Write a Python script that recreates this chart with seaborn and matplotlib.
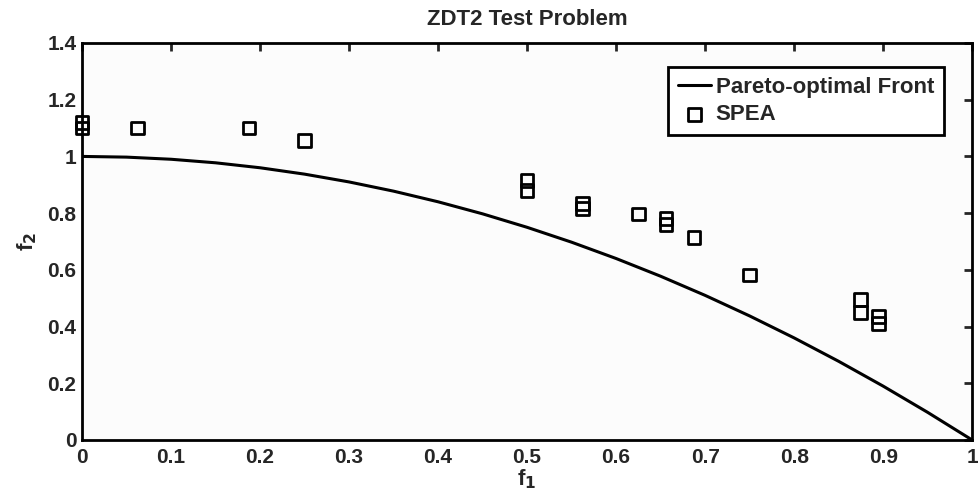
import matplotlib
matplotlib.use("Agg")
import matplotlib.pyplot as plt
import seaborn as sns
import pandas as pd

front_f1 = [0.0, 0.05, 0.1, 0.15, 0.2, 0.25, 0.3, 0.35, 0.4, 0.45, 0.5,
            0.55, 0.6, 0.65, 0.7, 0.75, 0.8, 0.85, 0.9, 0.95, 1.0]
front_f2 = [1.0, 0.9975, 0.99, 0.9775, 0.96, 0.9375, 0.91, 0.8775, 0.84, 0.7975, 0.75,
            0.6975, 0.64, 0.5775, 0.51, 0.4375, 0.36, 0.2775, 0.19, 0.0975, 0.0]

spea_f1 = [0.0, 0.0, 0.0625, 0.1875, 0.25, 0.5, 0.5, 0.5625, 0.5625, 0.625,
           0.656, 0.656, 0.6875, 0.75, 0.875, 0.875, 0.895, 0.895]
spea_f2 = [1.12, 1.10, 1.10, 1.10, 1.055, 0.915, 0.88, 0.835, 0.815, 0.797,
           0.78, 0.76, 0.714, 0.582, 0.495, 0.45, 0.435, 0.41]

xticks = [0, 0.1, 0.2, 0.3, 0.4, 0.5, 0.6, 0.7, 0.8, 0.9, 1]
xticklabels = ["0", "0.1", "0.2", "0.3", "0.4", "0.5", "0.6", "0.7", "0.8", "0.9", "1"]
yticks = [0, 0.2, 0.4, 0.6, 0.8, 1.0, 1.2, 1.4]
yticklabels = ["0", "0.2", "0.4", "0.6", "0.8", "1", "1.2", "1.4"]

sns.set_style("white")
plt.rcParams['font.family'] = ['Liberation Sans', 'DejaVu Sans']
plt.rcParams['font.weight'] = 'bold'
plt.rcParams['mathtext.default'] = 'bf'

fig = plt.figure(figsize=(9.79, 5.04), dpi=100)
ax = fig.add_axes([0.0838, 0.127, 0.9092, 0.7877])
ax.set_facecolor("#fcfcfc")

front = pd.DataFrame({"f1": front_f1, "f2": front_f2})
spea = pd.DataFrame({"f1": spea_f1, "f2": spea_f2})

sns.lineplot(data=front, x="f1", y="f2", ax=ax, color="black", linewidth=2.2,
             label="Pareto-optimal Front", sort=False)
sns.scatterplot(data=spea, x="f1", y="f2", ax=ax, marker="s", s=85,
                facecolors="none", edgecolor="black", linewidth=2.0, label="SPEA",
                clip_on=False, zorder=5)

ax.set_xlim(0, 1)
ax.set_ylim(0, 1.4)
ax.set_xticks(xticks)
ax.set_xticklabels(xticklabels, fontsize=15, fontweight="bold")
ax.set_yticks(yticks)
ax.set_yticklabels(yticklabels, fontsize=15, fontweight="bold")
ax.tick_params(direction="in", length=6, width=2, top=True, right=True)
ax.tick_params(axis="x", pad=6)
ax.tick_params(axis="y", pad=4)
for s in ax.spines.values():
    s.set_linewidth(2)
    s.set_color("black")

ax.set_xlabel("f$_1$", fontsize=16, fontweight="bold", labelpad=0)
ax.set_ylabel("f$_2$", fontsize=16, fontweight="bold", labelpad=6)
ax.set_title("ZDT2 Test Problem", fontsize=16, fontweight="bold", pad=13)

leg = ax.legend(loc="upper left", bbox_to_anchor=(0.658, 0.94), fontsize=16,
                frameon=True, fancybox=False, handlelength=1.5, handletextpad=0.2,
                borderpad=0.45, labelspacing=0.3, borderaxespad=0, markerscale=1.0)
leg.get_frame().set_edgecolor("black")
leg.get_frame().set_linewidth(2)
leg.get_frame().set_facecolor("white")
leg.get_frame().set_alpha(1)
for t in leg.get_texts():
    t.set_fontweight("bold")

fig.savefig("out.png", dpi=100, facecolor="white")
